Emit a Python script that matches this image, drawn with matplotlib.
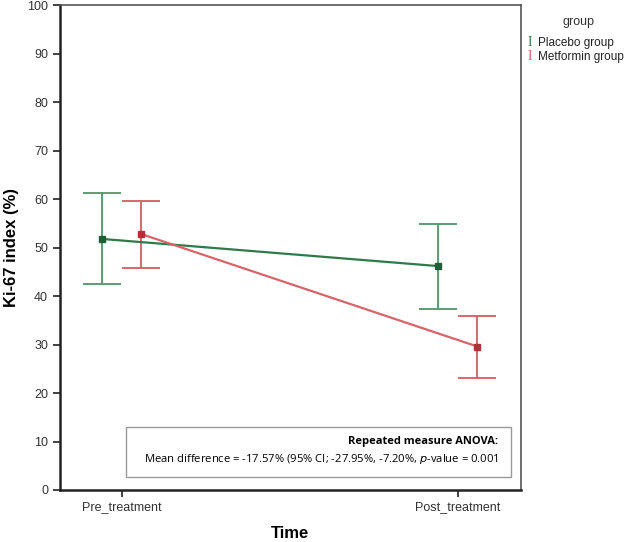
import matplotlib
matplotlib.use("Agg")
import matplotlib.pyplot as plt
import numpy as np
from matplotlib.patches import Rectangle

# data
times = ["Pre_treatment", "Post_treatment"]
groups = ["Placebo group", "Metformin group"]
placebo_mean = [51.8, 46.2]
placebo_lo = [42.5, 37.4]
placebo_hi = [61.3, 54.9]
metformin_mean = [52.8, 29.6]
metformin_lo = [45.9, 23.2]
metformin_hi = [59.7, 35.8]

line_cols = ["#2f7a4a", "#d9636a"]
bar_cols = ["#4f9468", "#d65b63"]
mark_cols = ["#1f5e36", "#b3303a"]

plt.rcParams['font.family'] = ['Liberation Sans', 'DejaVu Sans']

fig = plt.figure(figsize=(6.28, 5.42), dpi=100)
ax = fig.add_axes([0.0955, 0.096, 0.734, 0.894])

x = np.arange(len(times))
offs = [-0.058, 0.058]
series = [(placebo_mean, placebo_lo, placebo_hi), (metformin_mean, metformin_lo, metformin_hi)]
for i, (m, lo, hi) in enumerate(series):
    xs = x + offs[i]
    m = np.array(m)
    yerr = [m - np.array(lo), np.array(hi) - m]
    ax.plot(xs, m, color=line_cols[i], lw=1.6, zorder=3)
    ax.errorbar(xs, m, yerr=yerr, fmt='none', ecolor=bar_cols[i], elinewidth=1.3,
                capsize=14, capthick=1.3, zorder=2)
    ax.plot(xs, m, 's', color=mark_cols[i], ms=5, zorder=4)

ax.set_xlim(-0.1845, 1.1875)
ax.set_ylim(0, 100)
ax.set_yticks(np.arange(0, 101, 10))
ax.set_xticks(x)
ax.set_xticklabels(times)
ax.tick_params(axis='both', labelsize=9, colors='#333333', length=5, width=1.3)
ax.tick_params(axis='x', pad=3)
for s in ['left', 'bottom']:
    ax.spines[s].set_linewidth(1.8)
    ax.spines[s].set_color('#222222')
for s in ['top', 'right']:
    ax.spines[s].set_linewidth(1.2)
    ax.spines[s].set_color('#555555')

ax.set_ylabel("Ki-67 index (%)", fontsize=12, fontweight='bold', labelpad=6)
ax.set_xlabel("Time", fontsize=12, fontweight='bold', labelpad=9)

# annotation box
box = Rectangle((0.143, 0.026), 0.835, 0.104, transform=ax.transAxes,
                facecolor='white', edgecolor='#999999', lw=1.0, zorder=5)
ax.add_patch(box)
ax.text(0.951, 0.101, "Repeated measure ANOVA:", transform=ax.transAxes, ha='right',
        va='center', fontsize=8, fontweight='bold', family=['Open Sans', 'DejaVu Sans'], zorder=6)
ax.text(0.951, 0.063, "Mean difference = -17.57% (95% CI; -27.95%, -7.20%, $\\it{p}$-value = 0.001",
        transform=ax.transAxes, ha='right', va='center', fontsize=8.1,
        family=['Open Sans', 'DejaVu Sans'], zorder=6)

# legend
fig.text(0.921, 0.959, "group", ha='center', va='center', fontsize=9, color='#333333')
for i, g in enumerate(groups):
    yy = 0.921 - i * 0.026
    fig.text(0.843, yy, "I", ha='center', va='center', fontsize=10, color=line_cols[i],
             family=['Liberation Serif', 'DejaVu Serif'])
    fig.text(0.856, yy, g, ha='left', va='center', fontsize=8.5, color='#222222')

fig.savefig("out.png", dpi=100)
